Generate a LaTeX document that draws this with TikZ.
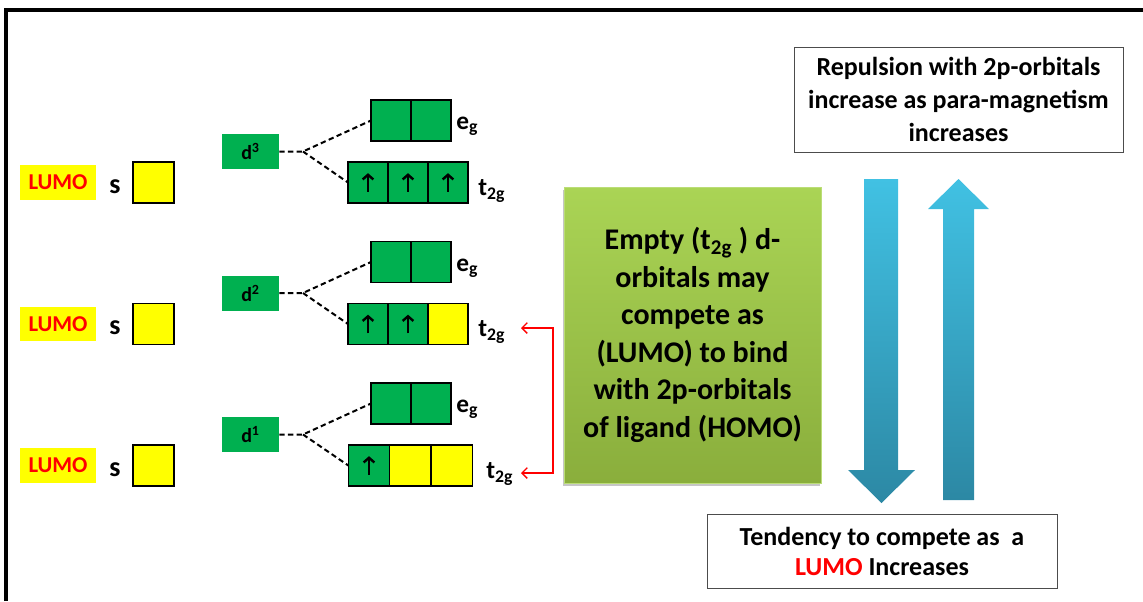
\documentclass[tikz,border=0pt]{standalone}
\usepackage{fontspec}
\setmainfont{Carlito}
\usetikzlibrary{arrows.meta}
\usetikzlibrary{positioning}
\usetikzlibrary{shadows}

\definecolor{ogreen}{HTML}{00B050}
\definecolor{lumoyellow}{HTML}{FFFF00}
\definecolor{leaftop}{HTML}{AAD455}
\definecolor{leafbot}{HTML}{8AAE3C}
\definecolor{skytop}{HTML}{41C1E3}
\definecolor{skybot}{HTML}{2C88A4}

\begin{document}
\begin{tikzpicture}[x=0.75pt,y=-0.75pt,
    every node/.style={font=\bfseries},
    lumo/.style={fill=lumoyellow,text=red,minimum width=57pt,minimum height=26pt,inner sep=0pt,
        font=\bfseries\fontsize{17}{18}\selectfont},
    slab/.style={font=\bfseries\fontsize{21}{24}\selectfont,inner sep=0pt},
    sbox/.style={draw,line width=1.2pt,fill=lumoyellow,minimum size=30.75pt,inner sep=0pt},
    dlab/.style={fill=ogreen,minimum width=42.75pt,minimum height=26.25pt,inner sep=0pt,
        font=\bfseries\fontsize{15}{16}\selectfont},
    cell/.style={draw,line width=1.2pt,minimum width=30pt,minimum height=30.75pt,inner sep=0pt,outer sep=0pt},
    orblab/.style={anchor=west,inner sep=0pt,font=\bfseries\fontsize{19}{22}\selectfont},
    spin/.style={line width=1.8pt,-{Straight Barb[length=3.5pt,width=8pt]}},
    dashline/.style={line width=1.5pt,dash pattern=on 4pt off 2.5pt},
    redarr/.style={red,line width=1pt,{Straight Barb[length=4pt,width=8pt]}-{Straight Barb[length=4pt,width=8pt]}},
    notebox/.style={draw=black!70,line width=0.6pt,fill=white,align=center,inner sep=0pt},
    bluearr/.style={top color=skytop,bottom color=skybot}]

\useasboundingbox (0,0) rectangle (1143,601);

% frame
\draw[line width=3pt] (6,601) -- (6,10) -- (1143,10);

% s orbitals, d levels and e_g sets
\foreach \k/\y in {3/182.5,2/324,1/465.5}{
    \node[lumo] (lumo\k) at (58,\y) {LUMO};
    \node[slab] (s\k) at (115,\y+4) {s};
    \node[sbox] (sb\k) at (153.5,\y) {};
    \node[dlab] (d\k) at (250.5,\y-31) {d\textsuperscript{\k}};
    \coordinate (j\k) at (303,\y-31);
    \node[cell,fill=ogreen] (e\k a) at (391,\y-62) {};
    \node[cell,fill=ogreen,right=0pt of e\k a] (e\k b) {};
    \node[orblab] (le\k) at (456,\y-56) {e\textsubscript{g}};
}

% t_2g sets
\node[cell,fill=ogreen] (t3a) at (368,182.5) {};
\node[cell,fill=ogreen,right=0pt of t3a] (t3b) {};
\node[cell,fill=ogreen,right=0pt of t3b] (t3c) {};
\node[orblab] (lt3) at (478,191) {t\textsubscript{2g}};

\node[cell,fill=ogreen] (t2a) at (368,324) {};
\node[cell,fill=ogreen,right=0pt of t2a] (t2b) {};
\node[cell,fill=lumoyellow,right=0pt of t2b] (t2c) {};
\node[orblab] (lt2) at (478,332) {t\textsubscript{2g}};

\node[cell,fill=ogreen,minimum width=31pt] (t1a) at (369,465.5) {};
\node[cell,fill=lumoyellow,minimum width=31pt,right=0pt of t1a] (t1b) {};
\node[cell,fill=lumoyellow,minimum width=31pt,right=0pt of t1b] (t1c) {};
\node[orblab] (lt1) at (486,474) {t\textsubscript{2g}};

% electrons
\foreach \c in {t3a,t3b,t3c,t2a,t2b,t1a}
    \draw[spin] ([yshift=-7pt]\c.center) -- ([yshift=7pt]\c.center);

% splitting
\foreach \k in {3,2,1}{
    \draw[dashline] (d\k) -- (j\k) -- (e\k a.west);
    \draw[dashline] (j\k) -- (t\k a.west);
}

% t_2g comparison
\coordinate (ta) at (521,328);
\coordinate (tb) at (521,473);
\draw[redarr] (ta) -- ++(32,0) |- (tb);

% explanation
\node[notebox,draw=leaftop!80!white,top color=leaftop,bottom color=leafbot,
    drop shadow={shadow xshift=-1pt,shadow yshift=-2pt,opacity=.45},
    minimum width=192.75pt,minimum height=222pt,
    font=\bfseries\fontsize{22.5}{28.1}\selectfont] (empty) at (692.5,335)
    {Empty (t\textsubscript{2g} ) d-\\orbitals may\\compete as\\(LUMO) to bind\\with 2p-orbitals\\of ligand (HOMO)};

\shade[bluearr] (864,179) -- (898,179) -- (898,470) -- (915,470) -- (881.5,503)
    -- (848,470) -- (864,470) -- cycle;
\shade[bluearr] (958.5,179) -- (989,209) -- (974,209) -- (974,500) -- (943,500)
    -- (943,209) -- (928,209) -- cycle;

\node[notebox,minimum width=246.75pt,minimum height=78.75pt,
    font=\bfseries\fontsize{19.5}{24.4}\selectfont] (repul) at (958.5,99.5)
    {Repulsion with 2p-orbitals\\increase as para-magnetism\\increases};
\node[notebox,minimum width=262.5pt,minimum height=55.5pt,
    font=\bfseries\fontsize{19.5}{22.5}\selectfont] (tend) at (882,551)
    {Tendency to compete as\ \ a\\{\color{red}LUMO} Increases};

\end{tikzpicture}
\end{document}
